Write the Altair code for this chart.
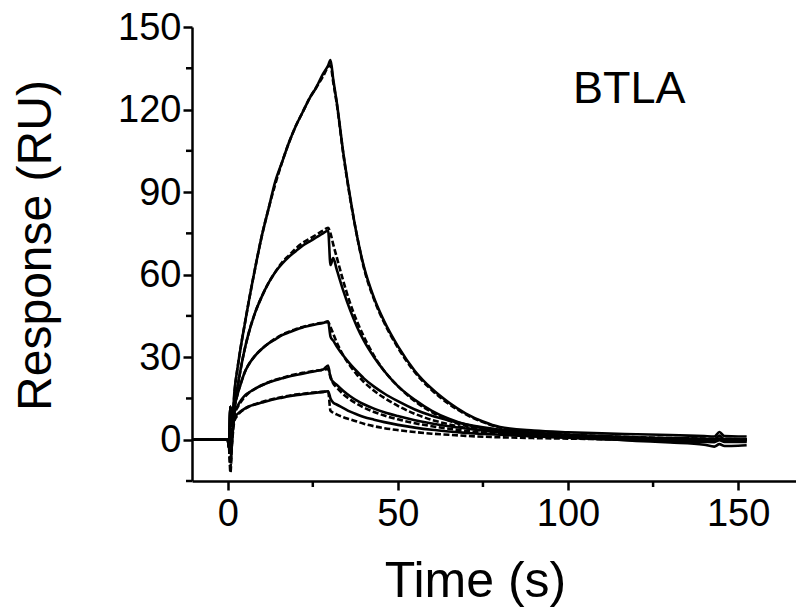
import altair as alt
import pandas as pd

# ---------------- data ----------------
TIME = [-10, -5, -1, 0, 0.4, 0.8, 1.2, 2, 3, 4, 5, 6, 8, 10, 12, 14, 16, 18, 20, 22, 24,
        26, 28, 29.5, 30.2, 31, 32, 34, 36, 38, 40, 43, 46, 50, 55, 60, 65, 70, 75, 80,
        90, 100, 110, 120, 130, 140, 143, 144.5, 146, 150, 152.5]

# measured responses (solid)
DATA_1 = [0.2, 0.1, 0, 0, -3, 12, 5, 18, 27, 35, 42, 49, 62, 74, 84, 94, 101, 108, 114, 119, 124,
          128, 133, 136, 138, 131, 123, 104, 88, 74, 63, 51.5, 43, 34, 25, 18.5, 13.5, 9.5, 6.6, 4.6,
          3.3, 2.7, 2.3, 2.0, 1.7, 1.3, 1.2, 2.8, 1.3, 1.2, 1.2]
DATA_2 = [0.1, 0, 0, 0, -3, 12, 5, 14, 20, 27, 33, 38, 46, 52, 57, 61, 64, 66.5, 68.5, 70.5, 72,
          73.5, 75, 76, 63.5, 66, 62, 54, 47, 41, 36, 30, 25, 19.5, 14.5, 10.5, 7.6, 5.5, 4.2, 3.3,
          2.3, 1.8, 1.3, 0.9, 0.6, 0.3, 0.2, 1.5, 0.1, 0, 0]
DATA_3 = [0, 0, 0, 0, -3, 12, 5, 12, 17, 21, 24.5, 27, 30.5, 33, 35, 36.5, 38, 39, 40, 40.8, 41.4,
          42, 42.4, 43, 37.5, 36, 34, 30.5, 27.5, 24.8, 22.3, 19.3, 16.8, 14, 11, 8.7, 7, 5.6, 4.5, 3.6,
          2.5, 1.7, 1.1, 0.6, 0.2, -0.1, -0.3, 0.4, -0.4, -0.5, -0.5]
DATA_4 = [0, 0, 0, 0, -3, 12, 5, 10, 12.5, 14.5, 16, 17, 18.5, 19.8, 20.8, 21.6, 22.3, 23, 23.5, 24, 24.5,
          25, 25.5, 27, 22.5, 21, 20, 17.7, 15.8, 14.2, 12.9, 11.3, 10, 8.6, 7.1, 5.9, 4.9, 4.1, 3.4, 2.8,
          1.8, 1.0, 0.3, -0.4, -1.0, -1.8, -2.5, -1.6, -2.3, -2.2, -2.0]
DATA_5 = [0, 0, 0, 0, -3, 12, 5, 8, 9.5, 10.5, 11.3, 12, 12.8, 13.5, 14.2, 14.8, 15.3, 15.8, 16.2, 16.5, 16.8,
          17.1, 17.4, 17.6, 15, 13.5, 12.8, 11.5, 10.2, 9.2, 8.3, 7.3, 6.4, 5.4, 4.4, 3.6, 3.0, 2.5, 2.1, 1.8,
          1.2, 0.7, 0.2, -0.2, -0.5, -0.8, -0.9, -0.2, -0.8, -0.8, -0.8]

# fitted curves (dashed)
FIT_1 = [0, 0, 0, 0, -2, -5, 2, 17, 27, 35, 42, 49, 62, 74, 84, 93, 101, 108, 114, 119, 124,
         128, 132, 135.5, 136, 130, 122.5, 103.5, 87.5, 74, 62.5, 51, 42.5, 33.5, 24.5, 18, 13, 9.2, 6.4, 4.4,
         2.8, 1.9, 1.3, 0.9, 0.6, 0.4, 0.3, 0.3, 0.3, 0.2, 0.2]
FIT_2 = [0, 0, 0, 0, -2, -7, 0, 13, 20, 27, 33, 38, 46, 52, 57, 61, 64.5, 67, 69.5, 71.5, 73,
         74.5, 76, 77, 75, 71, 66.5, 57.5, 49.5, 43, 37.5, 30.5, 25, 19.5, 14, 10, 7, 5, 3.6, 2.7,
         1.6, 1.0, 0.6, 0.4, 0.3, 0.2, 0.2, 0.2, 0.2, 0.1, 0.1]
FIT_3 = [0, 0, 0, 0, -2, -8, -1, 11, 17, 21, 24.5, 27, 30.5, 33, 35, 36.8, 38.2, 39.3, 40.2, 41, 41.6,
         42.1, 42.5, 42.8, 41, 38.5, 35.5, 30.5, 26.8, 23.6, 21, 17.8, 15.2, 12.3, 9.4, 7.2, 5.6, 4.3, 3.3, 2.6,
         1.6, 1.0, 0.6, 0.4, 0.3, 0.2, 0.2, 0.2, 0.2, 0.1, 0.1]
FIT_4 = [0, 0, 0, 0, -2, -10, -2, 9, 12, 14, 15.6, 16.8, 18.5, 19.8, 20.9, 21.8, 22.5, 23.2, 23.8, 24.3, 24.7,
         25.1, 25.4, 25.7, 23, 20.5, 19, 16.5, 14.6, 13, 11.7, 10.1, 8.8, 7.4, 6, 4.9, 4, 3.2, 2.6, 2.1,
         1.3, 0.8, 0.5, 0.3, 0.2, 0.1, 0.1, 0.1, 0.1, 0.1, 0.1]
FIT_5 = [0, 0, 0, 0, -3, -12, -3, 7, 9, 10.3, 11.2, 11.9, 12.9, 13.7, 14.4, 15, 15.5, 16, 16.4, 16.7, 17,
         17.2, 17.4, 17.5, 10.5, 9.8, 9.2, 8.2, 7.4, 6.6, 5.8, 4.9, 4.2, 3.5, 2.8, 2.2, 1.8, 1.4, 1.1, 0.9,
         0.6, 0.4, 0.2, 0.1, 0.1, 0, 0, 0, 0, 0, 0]

X_MAJOR = [0, 50, 100, 150]
X_MINOR = [25, 75, 125]
Y_MAJOR = [0, 30, 60, 90, 120, 150]
Y_MINOR = [-15, 15, 45, 75, 105, 135]
PANEL_LABEL = ["BTLA"]

DATA = [DATA_1, DATA_2, DATA_3, DATA_4, DATA_5]
FITS = [FIT_1, FIT_2, FIT_3, FIT_4, FIT_5]

data_rows, fit_rows = [], []
for i, (d, f) in enumerate(zip(DATA, FITS)):
    for t, v in zip(TIME, d):
        data_rows.append({"t": t, "v": v, "curve": f"c{i + 1}"})
    for t, v in zip(TIME, f):
        fit_rows.append({"t": t, "v": v, "curve": f"c{i + 1}"})
df_data = pd.DataFrame(data_rows)
df_fit = pd.DataFrame(fit_rows)

W, H = 604, 454
FONT = "Liberation Sans"

x_scale = alt.Scale(domain=[-10.5, 167], nice=False, zero=False)
y_scale = alt.Scale(domain=[-15, 150], nice=False, zero=False)

axis_common = dict(
    grid=False, domainColor="black", domainWidth=2.5, tickColor="black", tickWidth=2.5,
    tickSize=9, labelColor="black", labelFont=FONT, labelFontSize=38, labelFlush=False,
    labelOverlap=False, titleColor="black", titleFont=FONT, titleFontWeight="normal",
    format="d",
)

x_axis = alt.Axis(values=X_MAJOR, title="Time (s)", titleFontSize=50, labelPadding=5,
                  titleX=283, titleY=115, titleBaseline="alphabetic", titleAlign="center",
                  **axis_common)
y_axis = alt.Axis(values=Y_MAJOR, title="Response (RU)", titleFontSize=48, labelPadding=2,
                  labelOffset=1, titleAngle=270, titleX=-142, titleY=218,
                  titleBaseline="alphabetic", titleAlign="center", **axis_common)

X = alt.X("t:Q", scale=x_scale, axis=x_axis)
Y = alt.Y("v:Q", scale=y_scale, axis=y_axis)

data_lines = alt.Chart(df_data).mark_line(
    color="black", strokeWidth=2.6, interpolate="monotone"
).encode(x=X, y=Y, detail="curve:N")

fit_lines = alt.Chart(df_fit).mark_line(
    color="black", strokeWidth=2.6, strokeDash=[6, 2.5], interpolate="monotone"
).encode(x=X, y=Y, detail="curve:N")

y_minor = alt.Chart(pd.DataFrame({"v": Y_MINOR})).mark_rule(
    color="black", strokeWidth=2.5
).encode(y=Y, x=alt.value(-6), x2=alt.value(0))

x_minor = alt.Chart(pd.DataFrame({"t": X_MINOR})).mark_rule(
    color="black", strokeWidth=2.5
).encode(x=X, y=alt.value(H), y2=alt.value(H + 6))

label = alt.Chart(pd.DataFrame({"txt": PANEL_LABEL})).mark_text(
    font=FONT, fontSize=45, color="black", align="left", baseline="alphabetic"
).encode(text="txt:N", x=alt.value(381), y=alt.value(76))

chart = alt.layer(data_lines, fit_lines, y_minor, x_minor, label).properties(
    width=W, height=H,
    autosize=alt.AutoSizeParams(type="none"),
    padding={"left": 184, "top": 19, "right": 0, "bottom": 129},
).configure_view(strokeWidth=0)

chart.save("out.html", embed_options={"renderer": "svg", "actions": False})
